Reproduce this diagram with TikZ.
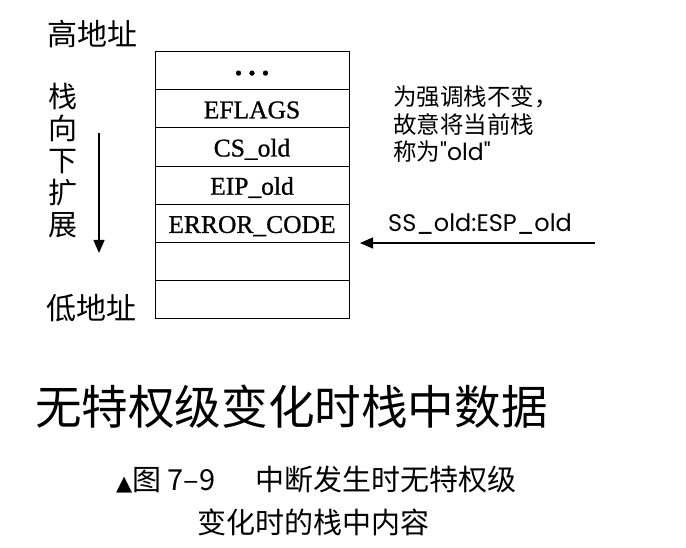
\documentclass[tikz,border=0pt]{standalone}
\usepackage{fontspec}
\setmainfont{Liberation Serif}
\newfontfamily\cellfont{Liberation Serif}[FakeBold=0.9]
\newfontfamily\cjk{Noto Sans CJK SC}
\newfontfamily\geo{Poppins}
\newfontfamily\dejavu{DejaVu Sans}
\usetikzlibrary{arrows.meta}
\begin{document}
\begin{tikzpicture}[x=1pt,y=-1pt,
  cell/.style={draw,line width=1pt,minimum width=194pt,minimum height=38.2pt,
    inner sep=0pt,outer sep=0pt,text height=19pt,text depth=0pt,
    font=\cellfont\fontsize{25.5}{25.5}\selectfont},
  cjklabel/.style={inner sep=0pt,font=\cjk\fontsize{30}{30}\selectfont},
  arr/.style={line width=1.2pt,-{Triangle[length=13pt,width=11pt]}},
  caption/.style={anchor=west,inner sep=0pt,font=\cjk\fontsize{29}{29}\selectfont}]
\useasboundingbox (0,0) rectangle (686,548);
% stack cells
\node[cell] (c1) at (252,70.6) {\raisebox{5pt}{\bfseries\fontsize{30}{30}\selectfont .\hspace{6pt}.\hspace{6pt}.}};
\node[cell] (c2) at (252,108.8) {EFLAGS};
\node[cell] (c3) at (252,147.0) {CS\_old};
\node[cell] (c4) at (252,185.2) {EIP\_old};
\node[cell] (c5) at (252,223.4) {ERROR\_CODE};
\node[cell] (c6) at (252,261.6) {};
\node[cell] (c7) at (252,299.8) {};
% left labels
\node[cjklabel] (hi) at (92,34) {高地址};
\node[cjklabel] (lo) at (91,308) {低地址};
\node[inner sep=0pt,align=center,font=\cjk\fontsize{29}{32}\selectfont] (grow) at (63,160) {栈\\向\\下\\扩\\展};
\coordinate (ga) at (99,133);
\coordinate (gb) at (99,253);
\draw[arr] (ga) -- (gb);
% right note
\node[anchor=west,align=left,inner sep=0pt,font=\cjk\fontsize{23.5}{27.5}\selectfont] (note) at (393,124)
  {为强调栈不变，\\故意将当前栈\\称为{\geo"old"}};
\node[anchor=base west,inner sep=0pt,font=\geo\fontsize{24}{24}\selectfont] (esp) at (388,231.7) {SS\_old:ESP\_old};
\coordinate (espfrom) at (595,243);
\coordinate (esptip) at (360,243);
\draw[arr] (espfrom) -- (esptip);
% title
\node[inner sep=0pt,font=\cjk\fontsize{46.6}{46.6}\selectfont] (title) at (291.5,407) {无特权级变化时栈中数据};
% caption
\node[caption] (cap1) at (116,480) {{\dejavu\fontsize{21}{21}\selectfont ▲}图 7–9\hspace{40pt}中断发生时无特权级};
\node[caption] (cap2) at (197,522) {变化时的栈中内容};
\end{tikzpicture}
\end{document}
